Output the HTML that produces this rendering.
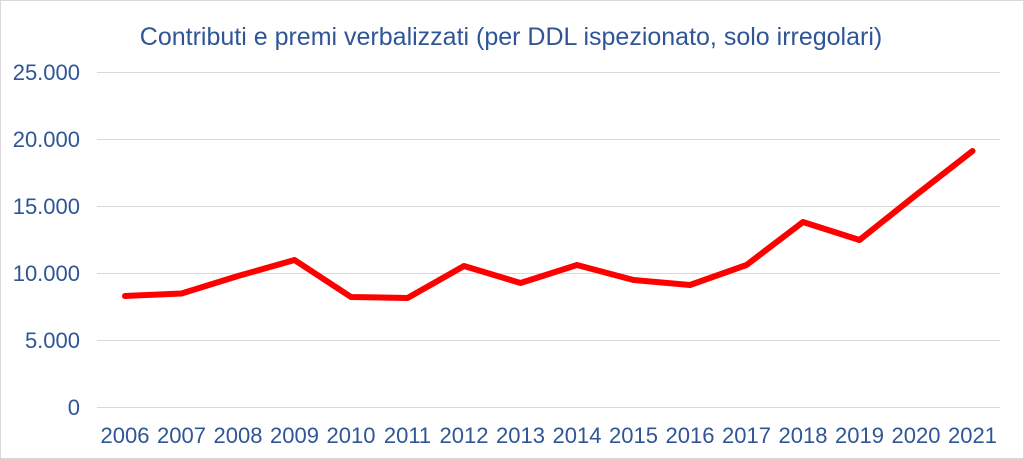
<!DOCTYPE html>
<html><head><meta charset="utf-8"><style>
html,body{margin:0;padding:0;background:#fff;}
svg{display:block;}
text{font-family:"Liberation Sans",Arial,sans-serif;fill:#2F5597;}
</style></head><body>
<svg width="1024" height="459" viewBox="0 0 1024 459">
<rect x="0.5" y="0.5" width="1023" height="458" fill="#fff" stroke="#d9d9d9"/>
<text x="511" y="45" font-size="25" text-anchor="middle">Contributi e premi verbalizzati (per DDL ispezionato, solo irregolari)</text>
<g stroke="#d9d9d9" stroke-width="1">
<line x1="97" x2="1000" y1="72.5" y2="72.5"/>
<line x1="97" x2="1000" y1="139.5" y2="139.5"/>
<line x1="97" x2="1000" y1="206.5" y2="206.5"/>
<line x1="97" x2="1000" y1="273.5" y2="273.5"/>
<line x1="97" x2="1000" y1="340.5" y2="340.5"/>
<line x1="97" x2="1000" y1="407.5" y2="407.5"/>
</g>
<g font-size="22" text-anchor="end">
<text x="80" y="80">25.000</text>
<text x="80" y="147">20.000</text>
<text x="80" y="214">15.000</text>
<text x="80" y="281">10.000</text>
<text x="80" y="348">5.000</text>
<text x="80" y="415">0</text>
</g>
<g font-size="22" text-anchor="middle">
<text x="125" y="443">2006</text><text x="181.5" y="443">2007</text><text x="238" y="443">2008</text><text x="294.5" y="443">2009</text>
<text x="351" y="443">2010</text><text x="407.5" y="443">2011</text><text x="464" y="443">2012</text><text x="520.5" y="443">2013</text>
<text x="577" y="443">2014</text><text x="633.5" y="443">2015</text><text x="690" y="443">2016</text><text x="746.5" y="443">2017</text>
<text x="803" y="443">2018</text><text x="859.5" y="443">2019</text><text x="916" y="443">2020</text><text x="972.5" y="443">2021</text>
</g>
<polyline fill="none" stroke="#ff0000" stroke-width="6" stroke-linejoin="round" stroke-linecap="round"
points="125,296 181.5,293.5 238,276 294.5,260 351,297 407.5,298 464,266 520.5,283 577,265 633.5,280 690,285 746.5,265 803,222 859.5,240 916,195 972.5,151"/>
</svg>
</body></html>
